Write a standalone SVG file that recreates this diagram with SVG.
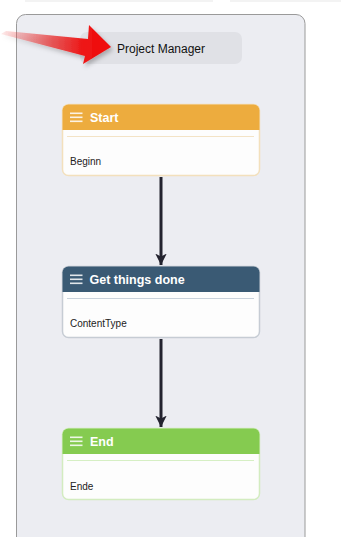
<svg xmlns="http://www.w3.org/2000/svg" width="341" height="537" viewBox="0 0 341 537">
<defs>
<style>
.title{font-family:"Liberation Sans",Arial,sans-serif;font-size:12.5px;font-weight:bold;fill:#fff}
.lbl{font-family:"Liberation Sans",Arial,sans-serif;font-size:10px;fill:#222}
.ham{stroke:#fff;stroke-width:1.6;opacity:0.85}
.conn{stroke:#23232f;stroke-width:3;fill:none}
</style>
<linearGradient id="redg" gradientUnits="userSpaceOnUse" x1="0" y1="0" x2="111" y2="0">
<stop offset="0" stop-color="#f05050" stop-opacity="0.1"/>
<stop offset="0.45" stop-color="#e83535" stop-opacity="0.75"/>
<stop offset="0.75" stop-color="#ee1515"/>
<stop offset="1" stop-color="#f00a0a"/>
</linearGradient>
<filter id="sh" x="-20%" y="-30%" width="150%" height="180%">
<feDropShadow dx="2" dy="3" stdDeviation="2" flood-color="#000" flood-opacity="0.25"/>
</filter>
<marker id="ah" viewBox="0 0 10 10" refX="10" refY="5" markerWidth="3.8" markerHeight="3.8" orient="auto" markerUnits="strokeWidth">
<path d="M0,0 L10,5 L0,10 L2.5,5 Z" fill="#23232f"/>
</marker>
</defs>
<rect width="341" height="537" fill="#fff"/>
<rect x="25" y="0" width="188" height="2" fill="#f3f3f3"/>
<rect x="230" y="0" width="111" height="2" fill="#f3f3f3"/>
<rect id="lane" x="16.5" y="14.5" width="288.5" height="540" rx="9" fill="#ecedf2" stroke="#9a9a9a" stroke-width="1"/>
<g id="lane-header">
<rect x="80" y="32" width="162" height="32" rx="7" fill="#e0e1e6"/>
<text x="161" y="52.5" text-anchor="middle" font-family="'Liberation Sans',Arial,sans-serif" font-size="12" fill="#111">Project Manager</text>
</g>
<g id="pointer" filter="url(#sh)">
<polygon points="6,31 88,39 89,25 111,47 83,64 85,56 1,34" fill="url(#redg)"/>
</g>
<g id="connectors">
<line class="conn" x1="161" y1="177" x2="161" y2="265" marker-end="url(#ah)"/>
<line class="conn" x1="161" y1="339" x2="161" y2="427" marker-end="url(#ah)"/>
</g>
<g id="node-start">
<rect x="62.5" y="104.5" width="197" height="71" rx="6" fill="#fdfdfd" stroke="#f3e0bc" stroke-width="1.5"/>
<path d="M62.5,130 V110.5 a6,6 0 0 1 6,-6 H253.5 a6,6 0 0 1 6,6 V130 Z" fill="#edac3e"/>
<line x1="67" y1="136.5" x2="254" y2="136.5" stroke="#f3e3c6" stroke-width="1"/>
<g class="ham"><line x1="70" y1="113.3" x2="82.5" y2="113.3"/><line x1="70" y1="117.3" x2="82.5" y2="117.3"/><line x1="70" y1="121.3" x2="82.5" y2="121.3"/></g>
<text class="title" x="90" y="122.3">Start</text>
<text class="lbl" x="70" y="165">Beginn</text>
</g>
<g id="node-get-things-done">
<rect x="62.5" y="266.5" width="197" height="71" rx="6" fill="#fdfdfd" stroke="#c6ccd4" stroke-width="1.5"/>
<path d="M62.5,292 V272.5 a6,6 0 0 1 6,-6 H253.5 a6,6 0 0 1 6,6 V292 Z" fill="#3a5a74"/>
<line x1="67" y1="298.5" x2="254" y2="298.5" stroke="#c9d2dc" stroke-width="1"/>
<g class="ham"><line x1="70" y1="275.3" x2="82.5" y2="275.3"/><line x1="70" y1="279.3" x2="82.5" y2="279.3"/><line x1="70" y1="283.3" x2="82.5" y2="283.3"/></g>
<text class="title" x="89.5" y="284.3">Get things done</text>
<text class="lbl" x="70" y="327">ContentType</text>
</g>
<g id="node-end">
<rect x="62.5" y="428.5" width="197" height="71" rx="6" fill="#fdfdfd" stroke="#d3ecc0" stroke-width="1.5"/>
<path d="M62.5,454 V434.5 a6,6 0 0 1 6,-6 H253.5 a6,6 0 0 1 6,6 V454 Z" fill="#85cb50"/>
<line x1="67" y1="460.5" x2="254" y2="460.5" stroke="#d6efc4" stroke-width="1"/>
<g class="ham"><line x1="70" y1="437.3" x2="82.5" y2="437.3"/><line x1="70" y1="441.3" x2="82.5" y2="441.3"/><line x1="70" y1="445.3" x2="82.5" y2="445.3"/></g>
<text class="title" x="90" y="446.3">End</text>
<text class="lbl" x="70" y="490">Ende</text>
</g>
</svg>
